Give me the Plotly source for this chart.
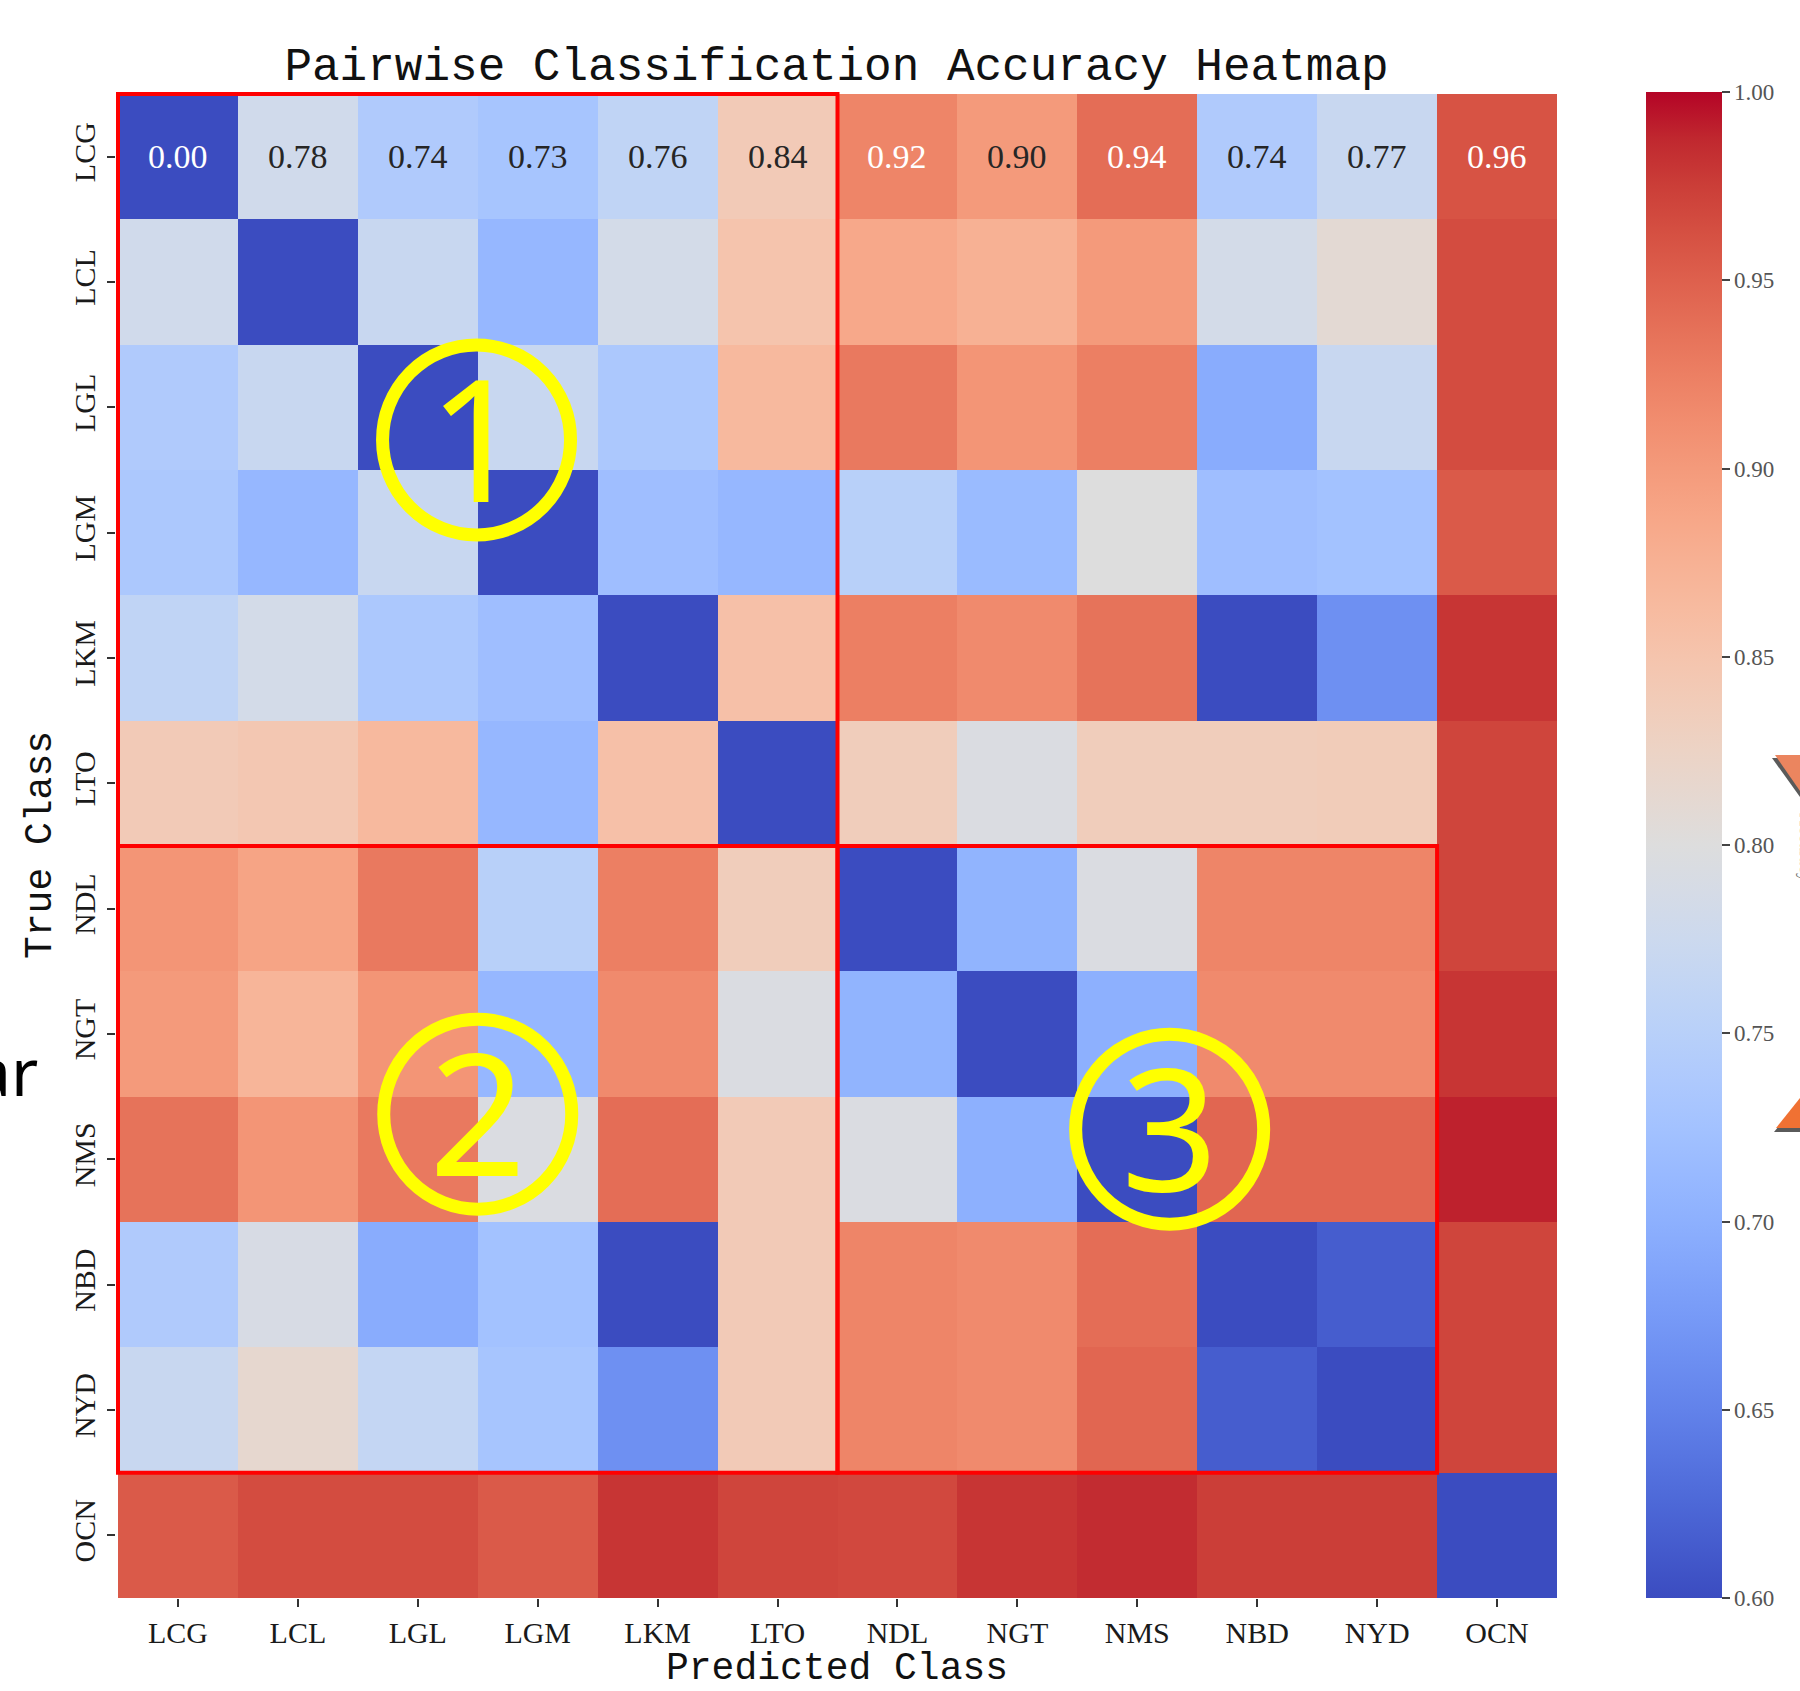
import plotly.graph_objects as go

# ---------------- data ----------------
classes = ["LCG", "LCL", "LGL", "LGM", "LKM", "LTO", "NDL", "NGT", "NMS", "NBD", "NYD", "OCN"]

row_LCG = [0.00, 0.78, 0.74, 0.73, 0.76, 0.84, 0.92, 0.90, 0.94, 0.74, 0.77, 0.96]
row_LCL = [0.78, 0.00, 0.77, 0.71, 0.785, 0.85, 0.885, 0.875, 0.90, 0.785, 0.81, 0.965]
row_LGL = [0.74, 0.77, 0.00, 0.77, 0.735, 0.865, 0.93, 0.905, 0.925, 0.695, 0.77, 0.965]
row_LGM = [0.735, 0.71, 0.77, 0.00, 0.72, 0.71, 0.75, 0.715, 0.80, 0.72, 0.725, 0.955]
row_LKM = [0.76, 0.785, 0.735, 0.72, 0.00, 0.855, 0.925, 0.915, 0.935, 0.60, 0.665, 0.98]
row_LTO = [0.84, 0.845, 0.865, 0.71, 0.855, 0.00, 0.835, 0.795, 0.835, 0.835, 0.838, 0.97]
row_NDL = [0.905, 0.89, 0.93, 0.75, 0.925, 0.835, 0.00, 0.705, 0.795, 0.92, 0.92, 0.97]
row_NGT = [0.90, 0.87, 0.905, 0.71, 0.915, 0.795, 0.705, 0.00, 0.70, 0.915, 0.915, 0.98]
row_NMS = [0.935, 0.905, 0.93, 0.795, 0.94, 0.84, 0.795, 0.70, 0.00, 0.945, 0.945, 0.99]
row_NBD = [0.74, 0.79, 0.695, 0.725, 0.60, 0.84, 0.92, 0.915, 0.94, 0.00, 0.615, 0.97]
row_NYD = [0.77, 0.815, 0.765, 0.73, 0.665, 0.84, 0.92, 0.915, 0.945, 0.615, 0.00, 0.97]
row_OCN = [0.955, 0.965, 0.965, 0.955, 0.98, 0.97, 0.968, 0.98, 0.985, 0.975, 0.975, 0.00]

z = [row_LCG, row_LCL, row_LGL, row_LGM, row_LKM, row_LTO,
     row_NDL, row_NGT, row_NMS, row_NBD, row_NYD, row_OCN]

zmin, zmax = 0.60, 1.00
cbar_ticks = [0.60, 0.65, 0.70, 0.75, 0.80, 0.85, 0.90, 0.95, 1.00]

# boxes (groups of classes) and circled labels
box_groups = [
    (("LCG", "LTO"), ("LCG", "LTO")),
    (("LCG", "LTO"), ("NDL", "NYD")),
    (("NDL", "NYD"), ("NDL", "NYD")),
]
circle_labels = ["1", "2", "3"]
circle_pos = [(2.49, 2.26), (2.50, 7.64), (8.27, 7.76)]

# ---------------- colormap (coolwarm) ----------------
COOLWARM = [
    (59, 76, 192), (68, 90, 204), (77, 104, 215), (87, 117, 225), (98, 130, 234),
    (108, 142, 241), (119, 154, 247), (130, 165, 251), (141, 176, 254), (152, 185, 255),
    (163, 194, 255), (174, 201, 253), (184, 208, 249), (194, 213, 244), (204, 217, 238),
    (213, 219, 230), (221, 221, 221), (229, 216, 209), (236, 211, 197), (241, 204, 185),
    (245, 196, 173), (247, 187, 160), (247, 177, 148), (247, 166, 135), (244, 154, 123),
    (241, 141, 111), (236, 127, 99), (229, 112, 88), (222, 96, 77), (213, 80, 66),
    (203, 62, 56), (192, 40, 47), (180, 4, 38),
]
n = len(COOLWARM) - 1
colorscale = [[i / n, "rgb(%d,%d,%d)" % c] for i, c in enumerate(COOLWARM)]


def cmap(v):
    t = min(max((v - zmin) / (zmax - zmin), 0.0), 1.0) * n
    i = min(int(t), n - 1)
    f = t - i
    a, b = COOLWARM[i], COOLWARM[i + 1]
    return tuple(a[k] + (b[k] - a[k]) * f for k in range(3))


def luminance(rgb):
    out = []
    for c in rgb:
        c = c / 255.0
        out.append(c / 12.92 if c <= 0.03928 else ((c + 0.055) / 1.055) ** 2.4)
    return 0.2126 * out[0] + 0.7152 * out[1] + 0.0722 * out[2]


# ---------------- figure ----------------
W, H = 1800, 1691
ML, MR, MT, MB = 116, 243, 92, 93
PW, PH = W - ML - MR, H - MT - MB


def px_to_paper(px, py):
    return (px - ML) / PW, 1 - (py - MT) / PH


serif = "Liberation Serif"
mono = "Liberation Mono"

fig = go.Figure(go.Heatmap(
    z=z, x=classes, y=classes,
    colorscale=colorscale, zmin=zmin, zmax=zmax,
    showscale=True,
    colorbar=dict(
        thickness=76, len=1.0, lenmode="fraction",
        x=(1646 - 10 - ML) / PW, xanchor="left", xpad=10,
        y=0.5, yanchor="middle", ypad=0,
        outlinewidth=0,
        tickvals=cbar_ticks, ticktext=["%.2f" % t for t in cbar_ticks],
        ticks="outside", ticklen=8, tickwidth=2, tickcolor="#444",
        tickfont=dict(family=serif, size=23, color="#555"),
    ),
    hoverongaps=False,
))

annotations = []
# value labels on the first row
for cls, v in zip(classes, z[0]):
    col = "white" if luminance(cmap(v)) <= 0.408 else "#262626"
    annotations.append(dict(
        x=cls, y=classes[0], xref="x", yref="y", text="%.2f" % v, showarrow=False,
        font=dict(family=serif, size=34, color=col),
    ))

# x-axis title (placed as annotation so it can sit close to the bottom edge)
xt_x, xt_y = px_to_paper(ML + PW / 2, 1668)
annotations.append(dict(
    x=0.5, y=xt_y, xref="paper", yref="paper", text="Predicted Class", showarrow=False,
    xanchor="center", yanchor="middle",
    font=dict(family=mono, size=38, color="#111"),
))

shapes = []
for (c0, c1), (r0, r1) in box_groups:
    shapes.append(dict(
        type="rect", xref="x", yref="y",
        x0=classes.index(c0) - 0.5, x1=classes.index(c1) + 0.5,
        y0=classes.index(r0) - 0.5, y1=classes.index(r1) + 0.5,
        line=dict(color="#FF0000", width=4), fillcolor="rgba(0,0,0,0)",
    ))

for lab, (cx, cy) in zip(circle_labels, circle_pos):
    shapes.append(dict(
        type="circle", xref="x", yref="y", xsizemode="pixel", ysizemode="pixel",
        xanchor=cx, yanchor=cy, x0=-94, x1=94, y0=-95, y1=95,
        line=dict(color="#FFFF00", width=13), fillcolor="rgba(0,0,0,0)",
    ))
    annotations.append(dict(
        x=cx, y=cy, xref="x", yref="y", text=lab, showarrow=False,
        font=dict(family="Noto Sans", size=170, color="#FFFF00"),
        xanchor="center", yanchor="middle", yshift=4,
    ))

# decorative fragments at the picture edges
ax, ay = px_to_paper(40, 1070)
annotations.append(dict(
    x=ax, y=ay, xref="paper", yref="paper", text="ar", showarrow=False,
    xanchor="right", yanchor="middle",
    font=dict(family="Noto Sans", size=66, color="black"),
))
tx, ty = px_to_paper(1806, 848)
annotations.append(dict(
    x=tx, y=ty, xref="paper", yref="paper", text="Accuracy", showarrow=False,
    textangle=90, xanchor="center", yanchor="middle",
    font=dict(family=serif, size=18, color="#666"),
))


def tri(points, color):
    pts = [px_to_paper(*p) for p in points]
    path = "M " + " L ".join("%f,%f" % p for p in pts) + " Z"
    return dict(type="path", xref="paper", yref="paper", path=path,
                fillcolor=color, line=dict(width=0), layer="above")


shapes.append(tri([(1772, 758), (1800, 758), (1800, 797)], "#5a5a5a"))
shapes.append(tri([(1775, 755), (1800, 755), (1800, 791)], "#EB855F"))
shapes.append(tri([(1774, 1132), (1800, 1101), (1800, 1132)], "#5a5a5a"))
shapes.append(tri([(1776, 1128), (1800, 1098), (1800, 1128)], "#F07133"))

fig.update_layout(
    width=W, height=H,
    margin=dict(l=ML, r=MR, t=MT, b=MB),
    paper_bgcolor="white", plot_bgcolor="white",
    title=dict(
        text="Pairwise Classification Accuracy Heatmap",
        x=(ML + PW / 2) / W, xanchor="center", xref="container",
        y=1 - 64 / H, yanchor="middle", yref="container",
        font=dict(family=mono, size=46, color="#111"),
    ),
    xaxis=dict(
        type="category", showgrid=False, zeroline=False, showline=False,
        ticks="outside", ticklen=8, tickwidth=1.5, tickcolor="#333",
        tickfont=dict(family=serif, size=30, color="#1a1a1a"),
        automargin=False,
    ),
    yaxis=dict(
        type="category", autorange="reversed", showgrid=False, zeroline=False,
        showline=False, ticks="outside", ticklen=8, tickwidth=1.5, tickcolor="#333",
        tickangle=-90,
        tickfont=dict(family=serif, size=30, color="#1a1a1a"),
        title=dict(text="True Class", standoff=4,
                   font=dict(family=mono, size=38, color="#111")),
        automargin=False,
    ),
    annotations=annotations,
    shapes=shapes,
)

fig.write_html(
    "out.html",
    config={"displayModeBar": False},
    post_script="document.body.style.margin='0';document.body.style.overflow='hidden';",
)
